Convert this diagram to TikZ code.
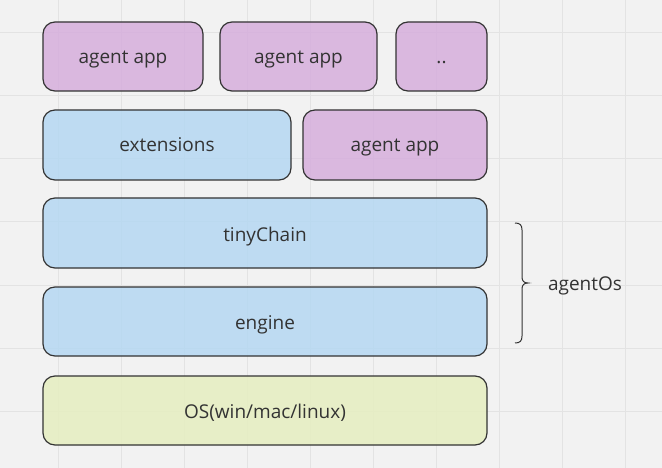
\documentclass[tikz,border=0pt]{standalone}
\usepackage{fontspec}
\setmainfont{Open Sans}
\definecolor{bg}{HTML}{F2F2F2}
\definecolor{gridc}{HTML}{E3E3E3}
\definecolor{purp}{HTML}{D6AEDC}
\definecolor{blu}{HTML}{B5D8F2}
\definecolor{grn}{HTML}{E6EEC0}
\definecolor{ink}{HTML}{333333}
\begin{document}
\begin{tikzpicture}[x=1pt,y=-1pt,
  blk/.style={draw=ink,line width=1.2pt,rounded corners=12pt,fill opacity=0.85},
  lbl/.style={text=ink,font=\fontsize{19}{22}\selectfont,anchor=base,inner sep=0pt}]
\fill[bg] (0,0) rectangle (662,468);
\useasboundingbox (0,0) rectangle (662,468);
\foreach \i in {0,...,10} {\draw[gridc,line width=1pt] (-5+63*\i,0) -- (-5+63*\i,468);}
\foreach \j in {0,...,7} {\draw[gridc,line width=1pt] (0,33+63*\j) -- (662,33+63*\j);}
\draw[blk,fill=purp] (43,22) rectangle (203,91);
\draw[blk,fill=purp] (220,22) rectangle (377,91);
\draw[blk,fill=purp] (396,22) rectangle (487,91);
\draw[blk,fill=blu] (43,110) rectangle (291,180);
\draw[blk,fill=purp] (303,110) rectangle (487,180);
\draw[blk,fill=blu] (43,198) rectangle (487,268);
\draw[blk,fill=blu] (43,287) rectangle (487,356);
\draw[blk,fill=grn] (43,376) rectangle (487,445);
\node[lbl] (a1) at (123,64) {agent app};
\node[lbl] (a2) at (298.5,64) {agent app};
\node[lbl] (a3) at (441.5,64) {..};
\node[lbl] (ext) at (167,152) {extensions};
\node[lbl] (a4) at (395,152) {agent app};
\node[lbl] (tc) at (265,241) {tinyChain};
\node[lbl] (eng) at (265,329) {engine};
\node[lbl] (os) at (265,418) {OS(win/mac/linux)};
\draw[ink,line width=1pt] (515,223) .. controls (520,223) and (522,225) .. (522,230)
  -- (522,277) .. controls (522,281) and (524,283) .. (528,283)
  .. controls (524,283) and (522,285) .. (522,289)
  -- (522,336) .. controls (522,341) and (520,343) .. (515,343);
\node[lbl] (aos) at (585,290) {agentOs};
\end{tikzpicture}
\end{document}
